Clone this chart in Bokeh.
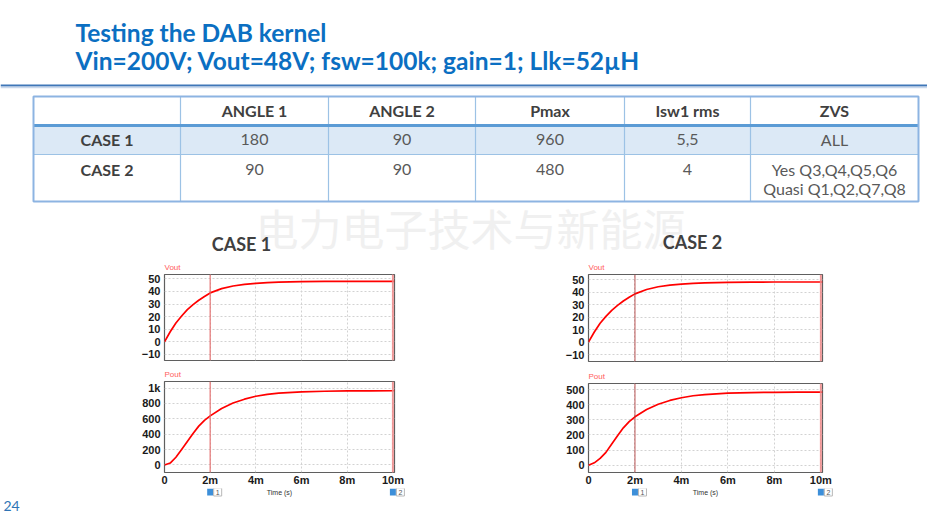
from bokeh.plotting import figure
from bokeh.layouts import row, column
from bokeh.models import Range1d, FixedTicker, Span, Spacer
from bokeh.core.properties import value
from bokeh.embed import file_html
from bokeh.resources import INLINE

# ---------------- data ----------------
title_line1 = "Testing the DAB kernel"
title_line2 = "Vin=200V; Vout=48V; fsw=100k; gain=1; Llk=52µH"
watermark = "电力电子技术与新能源"
page_number = "24"

table_header = ["", "ANGLE 1", "ANGLE 2", "Pmax", "Isw1 rms", "ZVS"]
case_names = ["CASE 1", "CASE 2"]
angle1 = ["180", "90"]
angle2 = ["90", "90"]
pmax = ["960", "480"]
isw1_rms = ["5,5", "4"]
zvs = ["ALL", "Yes Q3,Q4,Q5,Q6\nQuasi Q1,Q2,Q7,Q8"]

time_ms = [0, 0.25, 0.5, 0.75, 1.0, 1.25, 1.5, 1.75, 2.0, 2.5, 3.0, 3.5, 4.0, 4.5, 5.0, 6.0, 7.0, 8.0, 9.0, 10.07]
vout_case1 = [0, 8.0, 15.0, 20.5, 25.5, 29.5, 33.0, 36.0, 38.8, 42.2, 44.3, 45.6, 46.4, 46.9, 47.3, 47.7, 47.9, 48.0, 48.0, 48.0]
vout_case2 = [0, 8.0, 15.0, 20.5, 25.3, 29.3, 32.8, 35.8, 38.5, 42.0, 44.2, 45.5, 46.3, 46.9, 47.3, 47.7, 47.9, 48.0, 48.0, 48.0]
pout_case1 = [0, 25, 100, 200, 305, 410, 505, 580, 638, 735, 805, 855, 893, 918, 933, 950, 958, 962, 964, 965]
pout_case2 = [0, 16, 45, 85, 140, 195, 247, 288, 320, 368, 403, 428, 446, 459, 467, 476, 480, 482, 483, 483]

x_ticks = [0, 2, 4, 6, 8, 10]
vout_ticks = [-10, 0, 10, 20, 30, 40, 50]
pout1_ticks = [0, 200, 400, 600, 800, 1000]
pout2_ticks = [0, 100, 200, 300, 400, 500]
cursor_ms = [2.0, 10.0]
cursor_names = ["1", "2"]
x_label = "Time (s)"

# ---------------- styles ----------------
BLUE = "#0b6fc2"
DARK = "#404040"
GRAY = "#595959"
FONT = "Lato"
AXFONT = "Liberation Sans"
W = 927
H = 513


def canvas(w, h):
    p = figure(width=w, height=h, x_range=Range1d(0, w), y_range=Range1d(h, 0),
               x_axis_type=None, y_axis_type=None, output_backend="svg",
               toolbar_location=None, min_border=0)
    p.outline_line_color = None
    p.background_fill_color = "white"
    p.border_fill_color = "white"
    return p


# ---------------- top: title + table ----------------
TOP_H = 258
top = canvas(W, TOP_H)
top.text(x=[75, 75], y=[32, 60], text=[title_line1, title_line2],
         text_font=value(FONT), text_font_style="bold", text_font_size="24.5px",
         text_color=BLUE, text_baseline="middle")
top.segment(x0=[0], y0=[85], x1=[W], y1=[85], line_color="#3f77b8", line_width=2)
top.segment(x0=[0], y0=[87], x1=[W], y1=[87], line_color="#c9d8ec", line_width=1.5)

col_edges = [33, 180, 328, 475, 624, 750, 918]
row_edges = [96, 125, 154, 201]
row_text_y = [110, 139, 169]
cx = [(a + b) / 2 for a, b in zip(col_edges[:-1], col_edges[1:])]

top.quad(left=[col_edges[0]], right=[col_edges[-1]], top=[row_edges[1]], bottom=[row_edges[2]],
         fill_color="#dce9f6", line_color=None)
inner = col_edges[1:-1]
top.segment(x0=inner, y0=[row_edges[0]] * len(inner), x1=inner, y1=[row_edges[-1]] * len(inner),
            line_color="#9cc2e5", line_width=1.2)
top.segment(x0=[col_edges[0]], y0=[row_edges[2]], x1=[col_edges[-1]], y1=[row_edges[2]],
            line_color="#9cc2e5", line_width=1.2)
top.segment(x0=[col_edges[0]], y0=[row_edges[1]], x1=[col_edges[-1]], y1=[row_edges[1]],
            line_color="#5b9bd5", line_width=3)
top.quad(left=[col_edges[0]], right=[col_edges[-1]], top=[row_edges[0]], bottom=[row_edges[-1]],
         fill_color=None, line_color="#8db4e2", line_width=2)

top.text(x=[255], y=[226], text=[watermark], text_font=value("Noto Sans CJK SC"),
         text_font_size="43px", text_color="#f0f0f0", text_baseline="middle")

top.text(x=cx[1:], y=[row_text_y[0]] * 5, text=table_header[1:],
         text_font=value(FONT), text_font_style="bold", text_font_size="16px",
         text_color=DARK, text_align="center", text_baseline="middle")
LINE_STEP = 19
for i in range(2):
    ty = row_text_y[i + 1]
    top.text(x=[cx[0]], y=[ty], text=[case_names[i]],
             text_font=value(FONT), text_font_style="bold", text_font_size="16px",
             text_color=DARK, text_align="center", text_baseline="middle")
    cells = [angle1[i], angle2[i], pmax[i], isw1_rms[i], zvs[i]]
    xs, ys, ts = [], [], []
    for x, cell in zip(cx[1:], cells):
        for k, line in enumerate(cell.split("\n")):
            xs.append(x)
            ys.append(ty + k * LINE_STEP)
            ts.append(line)
    top.text(x=xs, y=ys, text=ts, text_font=value(FONT), text_font_size="16px",
             text_color=GRAY, text_align="center", text_baseline="middle")

top.text(x=[241, 692], y=[243, 241], text=case_names,
         text_font=value(FONT), text_font_style="bold", text_font_size="18px",
         text_color=DARK, text_align="center", text_baseline="middle")


# ---------------- charts ----------------
X_END = 10.07
ML, MR = 40, 12


def chart(width, height, mb_bottom, y_range, y_ticks, y_over, ys, label, cursor_colors, show_x):
    p = figure(width=width, height=height, x_range=Range1d(0, X_END), y_range=Range1d(*y_range),
               output_backend="svg", toolbar_location=None, title=label,
               min_border_left=ML, min_border_right=MR, min_border_top=16, min_border_bottom=mb_bottom)
    p.title.text_font = AXFONT
    p.title.text_font_size = "8px"
    p.title.text_font_style = "normal"
    p.title.text_color = "#ff5c5c"
    p.title.align = "left"
    p.title.standoff = 5
    p.background_fill_color = "white"
    p.border_fill_color = "white"
    p.outline_line_color = "#5f5f5f"
    p.outline_line_width = 1.2

    p.xaxis.ticker = FixedTicker(ticks=x_ticks)
    p.xaxis.major_label_overrides = {t: ("0" if t == 0 else f"{t}m") for t in x_ticks}
    p.yaxis.ticker = FixedTicker(ticks=y_ticks)
    p.yaxis.major_label_overrides = y_over
    for ax in (p.xaxis, p.yaxis):
        ax.axis_line_color = None
        ax.major_tick_line_color = None
        ax.minor_tick_line_color = None
        ax.major_tick_out = 0
        ax.major_tick_in = 0
        ax.major_label_text_font = AXFONT
        ax.major_label_text_font_style = "bold"
        ax.major_label_text_font_size = "11px"
        ax.major_label_text_color = "#1a1a1a"
    p.yaxis.major_label_standoff = 4
    p.xaxis.major_label_standoff = 1
    p.xaxis.visible = show_x

    p.grid.grid_line_color = "#d2d2d2"
    p.grid.grid_line_dash = "2 2"
    p.grid.grid_line_width = 1

    p.line(time_ms, ys, line_color="#ff0000", line_width=1.7)
    for c, (col, lw) in zip(cursor_ms, cursor_colors):
        p.add_layout(Span(location=c, dimension="height", line_color=col, line_width=lw, line_alpha=0.85))
    return p


cur1 = [("#e46a6a", 1.3), ("#f08a8a", 2)]
cur2 = [("#b03838", 1.0), ("#f08a8a", 2)]

# case 1: frames x 164..394 ; case 2: 588..822
v1 = chart(282, 107, 5, (-14.8, 53.4), vout_ticks, {}, vout_case1, "Vout", cur1, False)
p1 = chart(282, 123, 14, (-98, 1085), pout1_ticks, {1000: "1k"}, pout_case1, "Pout", cur1, True)
v2 = chart(286, 109, 6, (-15.6, 54.0), vout_ticks, {}, vout_case2, "Vout", cur2, False)
p2 = chart(286, 121, 14, (-48, 540), pout2_ticks, {}, pout_case2, "Pout", cur2, True)

STRIP_H = 25
MID_H = H - TOP_H - STRIP_H
mid = row(Spacer(width=124, height=MID_H), column(v1, p1), Spacer(width=142, height=MID_H),
          column(v2, p2), Spacer(width=W - 124 - 282 - 142 - 286, height=MID_H))

# strip under the charts: cursor flags, time-axis label and page number
strip = canvas(W, STRIP_H)
frames = [(124 + ML, 282 - ML - MR), (124 + 282 + 142 + ML, 286 - ML - MR)]
for f_left, f_w in frames:
    sx = [f_left + c * f_w / X_END for c in cursor_ms]
    strip.rect(x=sx, y=[3.5] * 2, width=6, height=7, fill_color="#3d8fd9", line_color=None)
    bx = [s + 7.5 for s in sx]
    strip.rect(x=bx, y=[3.5] * 2, width=8, height=8, fill_color="white", line_color="#b8b8b8", line_width=1)
    strip.text(x=bx, y=[3.5] * 2, text=cursor_names, text_font=value(AXFONT), text_font_size="7px",
               text_color="#555555", text_align="center", text_baseline="middle")
    strip.text(x=[f_left + f_w / 2], y=[3.5], text=[x_label], text_font=value(AXFONT), text_font_size="7px",
               text_color="#333333", text_align="center", text_baseline="middle")
strip.text(x=[3], y=[STRIP_H - 8], text=[page_number], text_font=value(FONT), text_font_size="14px",
           text_color="#2e74b5", text_baseline="middle")

layout = column(top, mid, strip)

open("out.html", "w").write(file_html(layout, INLINE))
